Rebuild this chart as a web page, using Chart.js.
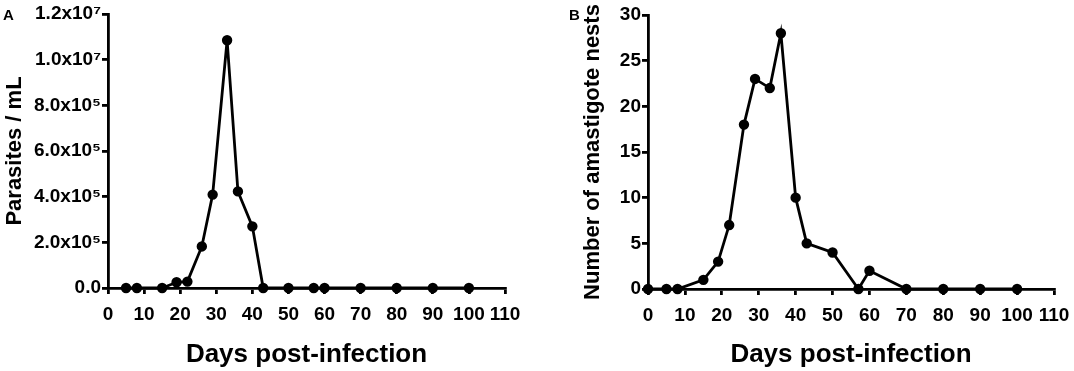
<!DOCTYPE html>
<html>
<head>
<meta charset="utf-8">
<script src="https://cdn.jsdelivr.net/npm/chart.js@4"></script>
<style>
  body { margin: 0; background: #fff; }
  #wrap { position: relative; width: 1074px; height: 371px; overflow: hidden; }
  .panel { position: absolute; top: 0; width: 537px; height: 371px; }
  .tag { position: absolute; font: bold 15px "Liberation Sans", Arial, sans-serif; color: #000; line-height: 17px; }
</style>
</head>
<body>
<div id="wrap">
  <div class="panel" style="left:0"><canvas id="chartA" width="537" height="371"></canvas></div>
  <div class="panel" style="left:537px"><canvas id="chartB" width="537" height="371"></canvas></div>
  <div class="tag" style="left:3px;top:6px">A</div>
  <div class="tag" style="left:569px;top:6px">B</div>
</div>
<script>
// Panel A - parasitemia
const daysA = [5, 8, 15, 19, 22, 26, 29, 33, 36, 40, 43, 50, 57, 60, 70, 80, 90, 100];
const parasitesA = [0, 0, 0, 250000, 280000, 1820000, 4090000, 10850000, 4230000, 2700000, 0, 0, 0, 0, 0, 0, 0, 0];
const parasiteTickLabels = ['0.0', '2.0x10⁵', '4.0x10⁵', '6.0x10⁵', '8.0x10⁵', '1.0x10⁷', '1.2x10⁷'];

// Panel B - amastigote nests
const daysB = [0, 5, 8, 15, 19, 22, 26, 29, 33, 36, 40, 43, 50, 57, 60, 70, 80, 90, 100];
const nestsB = [0, 0, 0, 1, 3, 7, 18, 23, 22, 28, 10, 5, 4, 0, 2, 0, 0, 0, 0];

const xTitle = 'Days post-infection';

Chart.defaults.font.family = '"Liberation Sans", Arial, sans-serif';
Chart.defaults.font.weight = 'bold';
Chart.defaults.color = '#000';

function toPoints(xs, ys) {
  return xs.map((x, i) => ({ x: x, y: ys[i] }));
}

// build one panel; sizes fix the plot box like in the picture
function makeChart(id, pts, yOpts, yTitle, box) {
  return new Chart(document.getElementById(id), {
    type: 'line',
    data: {
      datasets: [{
        data: pts,
        borderColor: '#000',
        backgroundColor: '#000',
        borderWidth: 2.8,
        pointRadius: 3.8,
        pointHoverRadius: 3.8,
        tension: 0,
        clip: false
      }]
    },
    options: {
      responsive: false,
      animation: false,
      plugins: { legend: { display: false }, tooltip: { enabled: false } },
      layout: { padding: { left: 0, right: box.right, top: box.top, bottom: 0 } },
      scales: {
        x: {
          type: 'linear',
          min: 0,
          max: 110,
          ticks: { stepSize: 10, font: { size: 19 }, padding: 9, maxRotation: 0 },
          grid: { drawOnChartArea: false, color: '#000', lineWidth: 2.8, tickLength: 6 },
          border: { color: '#000', width: 2.8 },
          title: { display: true, text: xTitle, font: { size: 26 }, padding: { bottom: 1 } },
          afterFit: s => { s.height = box.xHeight; s.paddingRight = 0; }
        },
        y: Object.assign({
          grid: { drawOnChartArea: false, color: '#000', lineWidth: 2.8, tickLength: 6 },
          border: { color: '#000', width: 2.8 },
          title: { display: true, text: yTitle, font: { size: 22 }, padding: { top: box.titlePad } },
          afterFit: s => { s.width = box.yWidth; }
        }, yOpts)
      }
    }
  });
}

makeChart('chartA', toPoints(daysA, parasitesA), {
  min: 0,
  max: 12000000,
  ticks: {
    stepSize: 2000000,
    font: { size: 19 },
    padding: 1,
    callback: v => parasiteTickLabels[Math.round(v / 2000000)]
  }
}, 'Parasites / mL', { right: 32, top: 14, xHeight: 83, yWidth: 108, titlePad: 2 });

makeChart('chartB', toPoints(daysB, nestsB), {
  min: 0,
  max: 30,
  ticks: { stepSize: 5, font: { size: 19 }, padding: 1 }
}, 'Number of amastigote nests', { right: 20, top: 15, xHeight: 82, yWidth: 111, titlePad: 43 });
</script>
</body>
</html>
